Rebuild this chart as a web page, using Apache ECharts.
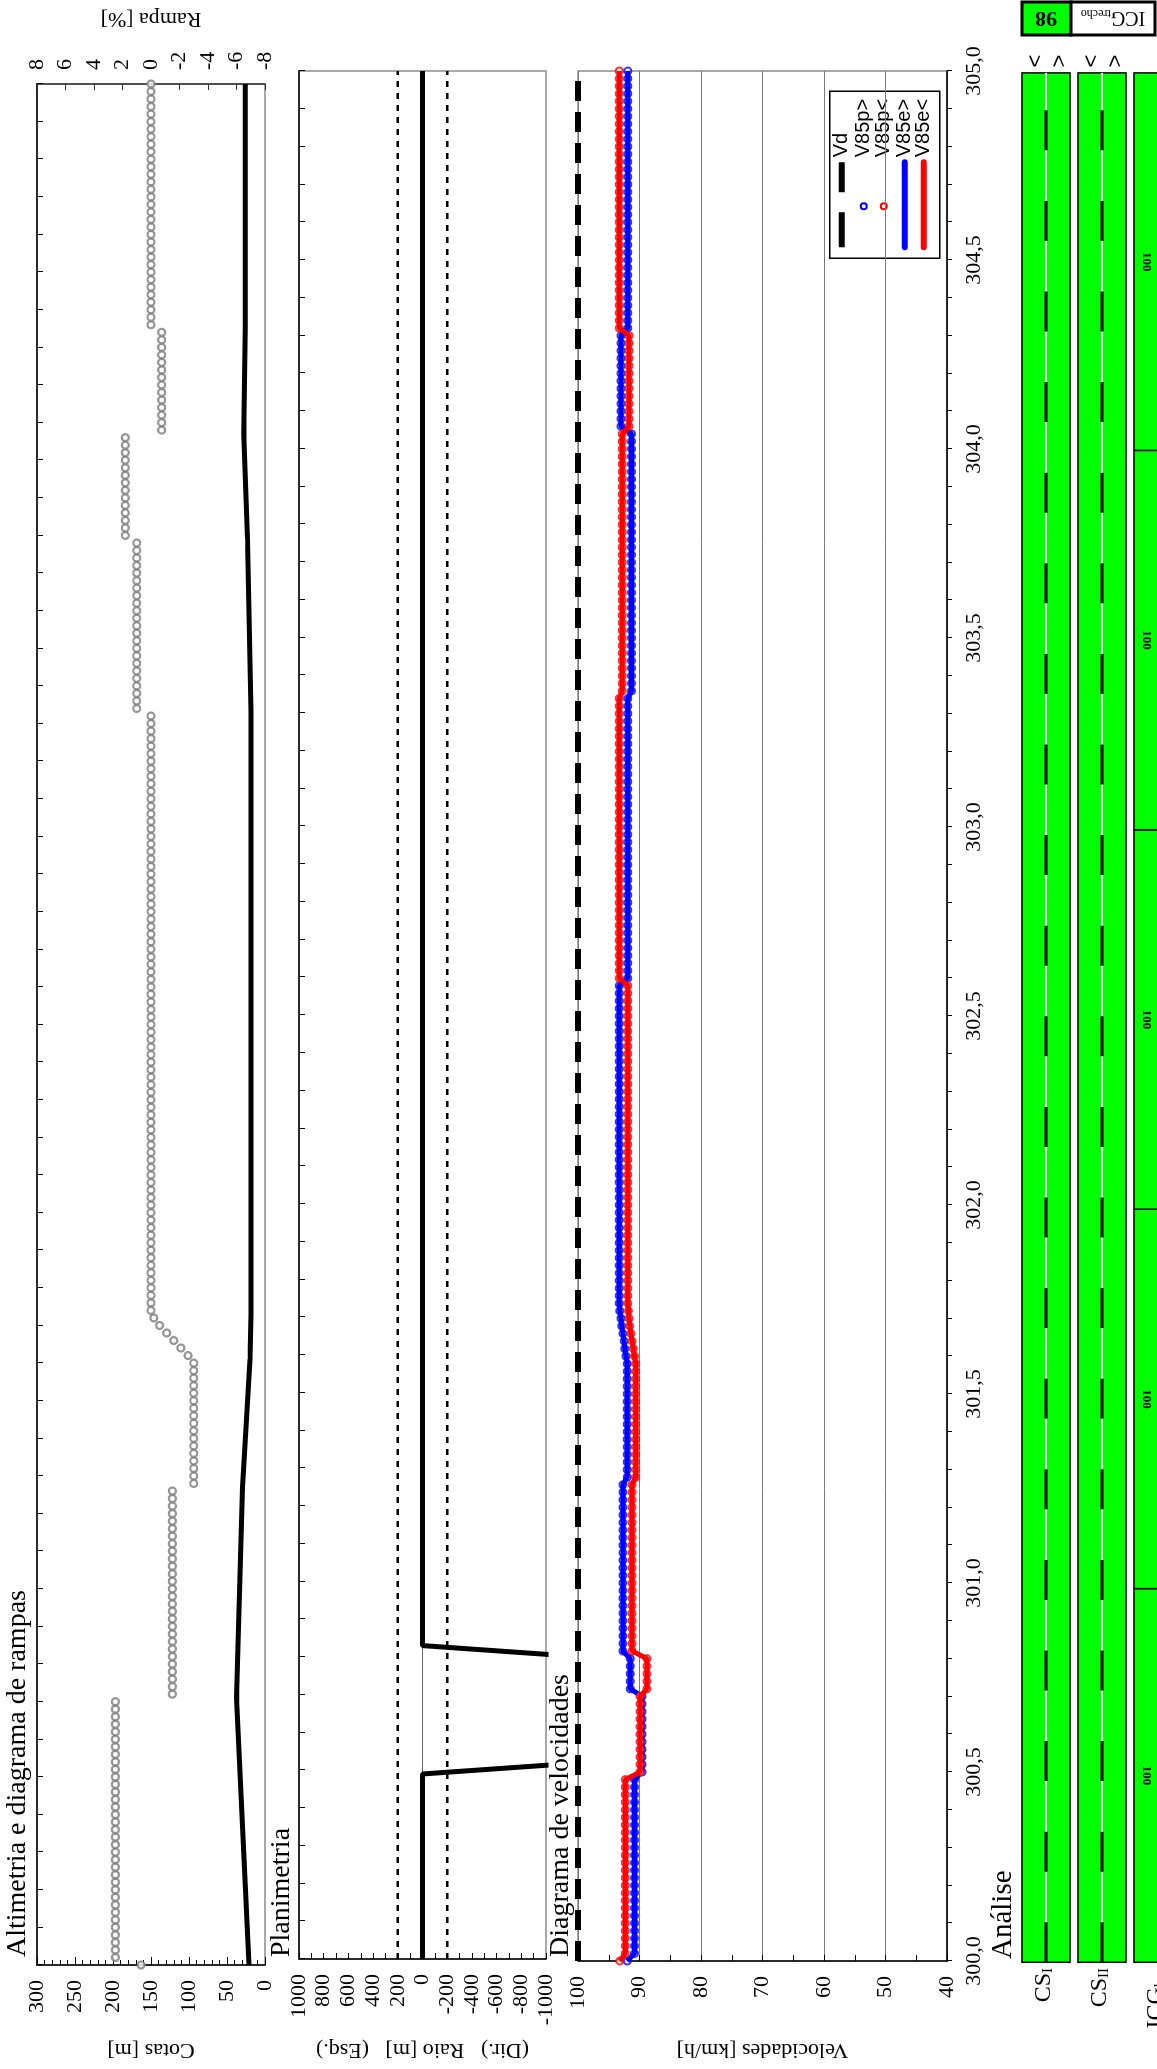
<!DOCTYPE html>
<html>
<head>
<meta charset="utf-8">
<script src="https://cdn.jsdelivr.net/npm/echarts@6/dist/echarts.min.js"></script>
<style>
  html, body { margin: 0; padding: 0; background: #fff; overflow: hidden; width: 1157px; height: 2069px; }
  /* the profile sheet is laid out in landscape and turned a quarter turn */
  #chart { position: absolute; left: 0; top: 0; width: 2069px; height: 1157px;
           transform-origin: 0 0; transform: translate(0, 2069px) rotate(-90deg); }
</style>
</head>
<body>
<div id="chart"></div>
<script>
// ---------------- data ----------------
const kmStart = 300.0;
const kmStep = 0.02;            // station spacing (20 m)

// grade per station, as runs of [number of stations, grade %]
const rampaRuns = [
  [1, 0.7], [35, 2.5], [28, -1.5], [17, -3.0],
  [1, -2.6], [1, -2.1], [1, -1.6], [1, -1.1], [1, -0.6], [1, -0.2],
  [80, 0.0], [23, 1.0], [14, 1.8], [14, -0.75], [33, 0.0]
];

// vertical profile (elevation) vertices
const cotaKm = [300.00, 300.71, 301.27, 301.61, 301.73, 303.33, 303.79, 304.07, 304.35, 305.00];
const cotaM  = [21.0,   37.5,   29.5,   19.8,   18.5,   18.5,   23.0,   28.0,   26.0,   26.0];

// horizontal alignment: curve radius (negative = right-hand curve)
const raioKm = [300.00, 300.49, 300.52, 300.80, 300.83, 305.00];
const raioM  = [0,      0,      -1300,  -1300,  0,      0];
const raioLimits = [200, -200];

// design speed
const vdKm = [300.0, 305.0];
const vdValue = 100;

// operating speed per station, runs of [number of stations, km/h]
const v85FwdRuns = [
  [1, 92.0], [24, 90.8], [11, 89.6], [5, 91.5], [23, 92.7], [16, 92.0],
  [1, 92.2], [1, 92.4], [1, 92.5], [1, 92.7], [1, 92.9], [1, 93.0], [1, 93.2],
  [43, 93.3], [38, 91.9], [35, 91.3], [13, 93.0], [35, 91.9]
];
const v85BwdRuns = [
  [1, 93.2], [24, 92.3], [11, 89.9], [5, 88.8], [23, 91.2], [16, 90.6],
  [1, 90.8], [1, 91.0], [1, 91.2], [1, 91.4], [1, 91.6], [1, 91.7], [1, 91.8],
  [43, 91.9], [38, 93.3], [35, 92.8], [13, 91.7], [35, 93.3]
];

// consistency analysis
const analiseRows = ['CS_I', 'CS_II', 'ICG_km'];
const csSegments = [[300.015, 304.995, 0], [300.015, 304.995, 1]];      // [from km, to km, row]
const icgKmFrom  = [300.015, 301.0, 302.0, 303.0, 304.0];
const icgKmTo    = [301.0, 302.0, 303.0, 304.0, 304.995];
const icgKmValue = [100, 100, 100, 100, 100];
const icgTrecho  = 98;

// ---------------- helpers ----------------
function expandRuns(runs) {
  const pts = [];
  let i = 0;
  runs.forEach(([n, v]) => {
    for (let k = 0; k < n; k++, i++) pts.push([+(kmStart + i * kmStep).toFixed(2), v]);
  });
  return pts;
}
const zip = (a, b) => a.map((v, i) => [v, b[i]]);

const SERIF = '"Liberation Serif", "Times New Roman", serif';
const SANS = '"Liberation Sans", Arial, sans-serif';
const GREEN = '#00ff00';
const BLUE = '#0000ff';
const RED = '#ff0000';

const L = 101, W = 1897;
const ANA_TOP = 1022, ANA_H = 135;          // analysis strips run off the sheet edge
const rowTop = [0, 56, 112], rowH = 48;

const chart = echarts.init(document.getElementById('chart'), null, { width: 2069, height: 1157 });

function topKmAxis(gi) {
  return {
    gridIndex: gi, type: 'value', min: 300, max: 305, interval: 0.1, position: 'top',
    axisLine: { show: true, onZero: false, lineStyle: { color: '#000', width: 1.5 } },
    axisTick: { show: true, inside: true, length: 6, lineStyle: { color: '#000', width: 1 } },
    axisLabel: { show: false }, splitLine: { show: false }
  };
}

const tickFont = { fontFamily: SERIF, fontSize: 22, color: '#000' };
const nameFont = { fontFamily: SERIF, fontSize: 22, color: '#000' };

function renderAnalise(params, api) {
  const x0 = api.value(0), x1 = api.value(1), row = api.value(2);
  const label = api.value(3);
  const a = api.coord([x0, rowTop[row]]);
  const b = api.coord([x1, rowTop[row] + rowH]);
  const children = [{
    type: 'rect',
    shape: { x: a[0], y: a[1], width: b[0] - a[0], height: b[1] - a[1] },
    style: { fill: GREEN, stroke: '#000', lineWidth: 1.5 }
  }];
  if (label) {
    children.push({
      type: 'text', x: (a[0] + b[0]) / 2, y: a[1] + 12, rotation: Math.PI,
      style: { text: String(label), align: 'center', verticalAlign: 'middle',
               font: 'bold 13px ' + SERIF, fill: '#000' }
    });
  }
  return { type: 'group', children };
}

const csData = csSegments.map(s => [s[0], s[1], s[2], 0]);
const icgData = icgKmFrom.map((f, i) => [f, icgKmTo[i], 2, icgKmValue[i]]);

const option = {
  animation: false,
  backgroundColor: '#fff',
  grid: [
    { left: L, top: 37, width: W, height: 228, show: true, borderColor: '#8c8c8c', borderWidth: 1.5 },
    { left: L, top: 299, width: W, height: 247, show: true, borderColor: '#8c8c8c', borderWidth: 1.5 },
    { left: L, top: 578, width: W, height: 369, show: true, borderColor: '#8c8c8c', borderWidth: 1.5 },
    { left: L, top: ANA_TOP, width: W, height: ANA_H, show: false }
  ],
  xAxis: [
    topKmAxis(0), topKmAxis(1),
    { gridIndex: 2, type: 'value', min: 300, max: 305, interval: 0.5, position: 'bottom',
      axisLine: { show: true, onZero: false, lineStyle: { color: '#000', width: 1.5 } },
      axisTick: { show: true, inside: false, length: 5, lineStyle: { color: '#000' } },
      minorTick: { show: true, splitNumber: 5, length: 5, lineStyle: { color: '#000' } },
      axisLabel: { ...tickFont, margin: 16, formatter: v => v.toFixed(1).replace('.', ',') },
      splitLine: { show: false } },
    { gridIndex: 3, type: 'value', min: 300, max: 305, show: false }
  ],
  yAxis: [
    { gridIndex: 0, type: 'value', min: 0, max: 300, interval: 50, position: 'left',
      name: 'Cotas [m]', nameLocation: 'middle', nameRotate: 90, nameGap: 74, nameTextStyle: nameFont,
      axisLine: { show: true, lineStyle: { color: '#000', width: 1.5 } },
      axisTick: { show: true, inside: true, length: 8, lineStyle: { color: '#000' } },
      minorTick: { show: true, splitNumber: 5, length: 5, lineStyle: { color: '#000' } },
      axisLabel: { ...tickFont, margin: 15 }, splitLine: { show: false } },
    { gridIndex: 0, type: 'value', min: -8, max: 8, interval: 2, position: 'right',
      name: 'Rampa [%]', nameLocation: 'middle', nameRotate: 90, nameGap: 54, nameTextStyle: nameFont,
      axisLine: { show: true, lineStyle: { color: '#333', width: 1.5 } },
      axisTick: { show: true, inside: true, length: 6, lineStyle: { color: '#333' } },
      axisLabel: { ...tickFont, margin: 14 }, splitLine: { show: false } },
    { gridIndex: 1, type: 'value', min: -1000, max: 1000, interval: 200, position: 'left',
      name: '(Dir.)   Raio [m]   (Esq.)', nameLocation: 'middle', nameRotate: 90, nameGap: 80, nameTextStyle: nameFont,
      axisLine: { show: true, lineStyle: { color: '#000', width: 1.5 } },
      axisTick: { show: true, inside: true, length: 6, lineStyle: { color: '#000' } },
      minorTick: { show: true, splitNumber: 2, length: 6, lineStyle: { color: '#000' } },
      axisLabel: { ...tickFont, margin: 15, formatter: v => String(v) }, splitLine: { show: false } },
    { gridIndex: 2, type: 'value', min: 40, max: 100, interval: 10, position: 'left',
      name: 'Velocidades [km/h]', nameLocation: 'middle', nameRotate: 90, nameGap: 78, nameTextStyle: nameFont,
      axisLine: { show: true, lineStyle: { color: '#000', width: 1.5 } },
      axisTick: { show: true, inside: true, length: 6, lineStyle: { color: '#000' } },
      minorTick: { show: true, splitNumber: 2, length: 6, lineStyle: { color: '#000' } },
      axisLabel: { ...tickFont, margin: 15 },
      splitLine: { show: true, lineStyle: { color: '#7a7a7a', width: 1 } } },
    { gridIndex: 3, type: 'value', min: 0, max: ANA_H, inverse: true, show: false }
  ],
  series: [
    // altimetry
    { name: 'Rampa', type: 'scatter', xAxisIndex: 0, yAxisIndex: 1, data: expandRuns(rampaRuns),
      symbol: 'circle', symbolSize: 7,
      itemStyle: { color: '#ffffff', borderColor: '#7c7c7c', borderWidth: 2.2 }, z: 3 },
    { name: 'Cotas', type: 'line', xAxisIndex: 0, yAxisIndex: 0, data: zip(cotaKm, cotaM),
      showSymbol: false, lineStyle: { color: '#000', width: 5 }, z: 4 },
    // horizontal alignment
    { name: 'zero', type: 'line', xAxisIndex: 1, yAxisIndex: 2, data: [[300, 0], [305, 0]],
      showSymbol: false, lineStyle: { color: '#666', width: 1 }, z: 2 },
    ...raioLimits.map(v => ({ name: 'limite ' + v, type: 'line', xAxisIndex: 1, yAxisIndex: 2,
      data: [[300, v], [305, v]], showSymbol: false,
      lineStyle: { color: '#000', width: 2.5, type: [6, 6] }, z: 2 })),
    { name: 'Raio', type: 'line', xAxisIndex: 1, yAxisIndex: 2, data: zip(raioKm, raioM),
      showSymbol: false, clip: true, lineStyle: { color: '#000', width: 5 }, z: 4 },
    // speeds
    { name: 'Vd', type: 'line', xAxisIndex: 2, yAxisIndex: 3, data: vdKm.map(k => [k, vdValue]),
      showSymbol: false, lineStyle: { color: '#000', width: 6, type: [20, 11] }, z: 3 },
    { name: 'V85p>', type: 'scatter', xAxisIndex: 2, yAxisIndex: 3, data: expandRuns(v85FwdRuns),
      symbol: 'emptyCircle', symbolSize: 7, itemStyle: { color: BLUE, borderColor: BLUE, borderWidth: 2 }, z: 4 },
    { name: 'V85e>', type: 'line', xAxisIndex: 2, yAxisIndex: 3, data: expandRuns(v85FwdRuns),
      showSymbol: false, lineStyle: { color: BLUE, width: 5 }, z: 5 },
    { name: 'V85p<', type: 'scatter', xAxisIndex: 2, yAxisIndex: 3, data: expandRuns(v85BwdRuns),
      symbol: 'emptyCircle', symbolSize: 7, itemStyle: { color: RED, borderColor: RED, borderWidth: 2 }, z: 6 },
    { name: 'V85e<', type: 'line', xAxisIndex: 2, yAxisIndex: 3, data: expandRuns(v85BwdRuns),
      showSymbol: false, lineStyle: { color: RED, width: 5 }, z: 7 },
    // analysis strips
    { name: 'CS', type: 'custom', xAxisIndex: 3, yAxisIndex: 4, data: csData.concat(icgData),
      renderItem: renderAnalise, clip: false, z: 2 },
    ...[0, 1].map(r => ({ name: 'eixo ' + analiseRows[r], type: 'line', xAxisIndex: 3, yAxisIndex: 4,
      data: [[300.015, rowTop[r] + rowH / 2], [304.995, rowTop[r] + rowH / 2]], showSymbol: false,
      lineStyle: { color: '#fff', width: 2 }, z: 3 })),
    ...[0, 1].map(r => ({ name: 'limite ' + analiseRows[r], type: 'line', xAxisIndex: 3, yAxisIndex: 4,
      data: [[300.015, rowTop[r] + rowH / 2], [304.995, rowTop[r] + rowH / 2]], showSymbol: false,
      lineStyle: { color: '#000', width: 3, type: [40, 50.6] }, z: 4 }))
  ],
  graphic: [
    // panel titles
    { type: 'text', left: 112, top: 4, style: { text: 'Altimetria e diagrama de rampas', font: '28px ' + SERIF, fill: '#000' } },
    { type: 'text', left: 112, top: 268, style: { text: 'Planimetria', font: '28px ' + SERIF, fill: '#000' } },
    { type: 'text', left: 112, top: 547, style: { text: 'Diagrama de velocidades', font: '28px ' + SERIF, fill: '#000' } },
    { type: 'text', left: 110, top: 989, style: { text: 'Análise', font: '29px ' + SERIF, fill: '#000' } },
    // legend
    { type: 'group', left: 1810, top: 829, children: [
      { type: 'rect', shape: { x: 0, y: 0, width: 167, height: 110 }, style: { fill: '#fff', stroke: '#000', lineWidth: 1.5 } },
      { type: 'line', shape: { x1: 11, y1: 12, x2: 46, y2: 12 }, style: { stroke: '#000', lineWidth: 6 } },
      { type: 'line', shape: { x1: 66, y1: 12, x2: 96, y2: 12 }, style: { stroke: '#000', lineWidth: 6 } },
      { type: 'circle', shape: { cx: 52, cy: 34, r: 3 }, style: { fill: '#fff', stroke: BLUE, lineWidth: 2 } },
      { type: 'circle', shape: { cx: 52, cy: 54, r: 3 }, style: { fill: '#fff', stroke: RED, lineWidth: 2 } },
      { type: 'line', shape: { x1: 11, y1: 75, x2: 96, y2: 75 }, style: { stroke: BLUE, lineWidth: 6, lineCap: 'round' } },
      { type: 'line', shape: { x1: 11, y1: 94, x2: 96, y2: 94 }, style: { stroke: RED, lineWidth: 6, lineCap: 'round' } },
      ...['Vd', 'V85p>', 'V85p<', 'V85e>', 'V85e<'].map((t, i) => ({
        type: 'text', x: 101, y: [12, 34, 54, 75, 94][i],
        style: { text: t, font: '20px ' + SANS, fill: '#000', verticalAlign: 'middle' } }))
    ] },
    // row labels of the analysis strips
    ...[['CS', 'I'], ['CS', 'II'], ['ICG', 'km']].map((p, i) => ({
      type: 'text', right: 2069 - 101, top: ANA_TOP + rowTop[i] + rowH / 2 - 14,
      style: { text: '{b|' + p[0] + '}{s|' + p[1] + '}', fill: '#000',
               rich: { b: { font: '24px ' + SERIF, lineHeight: 28, verticalAlign: 'bottom' },
                       s: { font: '15px ' + SERIF, lineHeight: 12, verticalAlign: 'bottom' } } } })),
    // direction marks at the end of the CS strips
    ...[0, 1].flatMap(r => [
      { type: 'text', x: 2008, y: ANA_TOP + rowTop[r] + 14, style: { text: '<', font: '22px ' + SANS, fill: '#000', align: 'center', verticalAlign: 'middle' } },
      { type: 'text', x: 2008, y: ANA_TOP + rowTop[r] + 38, style: { text: '>', font: '22px ' + SANS, fill: '#000', align: 'center', verticalAlign: 'middle' } }
    ]),
    // stretch index box
    { type: 'rect', shape: { x: 2034, y: 1022, width: 33, height: 49 }, style: { fill: GREEN, stroke: '#000', lineWidth: 3 } },
    { type: 'rect', shape: { x: 2034, y: 1071, width: 33, height: 84 }, style: { fill: '#fff', stroke: '#000', lineWidth: 3 } },
    { type: 'text', x: 2051, y: 1046, rotation: Math.PI / 2,
      style: { text: String(icgTrecho), font: 'bold 22px ' + SERIF, fill: '#000', align: 'center', verticalAlign: 'middle' } },
    { type: 'text', x: 2051, y: 1113, rotation: Math.PI / 2,
      style: { text: '{b|ICG}{s|trecho}', align: 'center', verticalAlign: 'middle', fill: '#000',
               rich: { b: { font: '20px ' + SERIF, lineHeight: 22, verticalAlign: 'bottom' },
                       s: { font: '12px ' + SERIF, lineHeight: 10, verticalAlign: 'bottom' } } } }
  ]
};
chart.setOption(option);
</script>
</body>
</html>
